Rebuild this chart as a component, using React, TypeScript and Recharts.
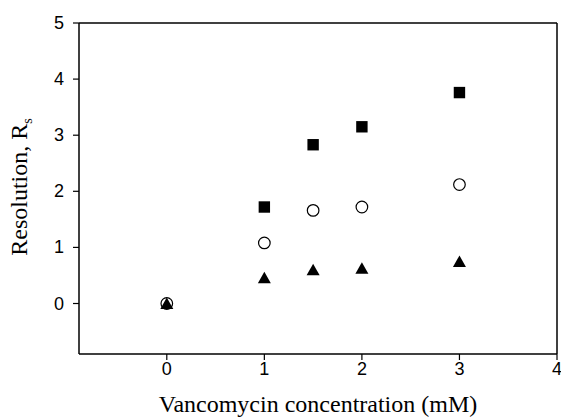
import { ScatterChart, Scatter, XAxis, YAxis, ReferenceLine } from 'recharts';

// Vancomycin concentration (mM)
const squareConc = [1, 1.5, 2, 3];
const squareRs = [1.72, 2.83, 3.15, 3.76];
const circleConc = [0, 1, 1.5, 2, 3];
const circleRs = [0, 1.08, 1.66, 1.72, 2.12];
const triangleConc = [0, 1, 1.5, 2, 3];
const triangleRs = [0, 0.46, 0.6, 0.63, 0.75];

const xTicks = [0, 1, 2, 3, 4];
const yTicks = [0, 1, 2, 3, 4, 5];

const toPoints = (xs: number[], ys: number[]) => xs.map((x, i) => ({ x, y: ys[i] }));

const squareData = toPoints(squareConc, squareRs);
const circleData = toPoints(circleConc, circleRs);
const triangleData = toPoints(triangleConc, triangleRs);

const sans = '"Liberation Sans", Arial, sans-serif';
const serif = '"Liberation Serif", "Times New Roman", serif';

const XTick = ({ x, y, payload }: any) => (
  <text x={x} y={y + 13} textAnchor="middle" fontFamily={sans} fontSize={18} fill="#000">
    {payload.value}
  </text>
);
const YTick = ({ x, y, payload }: any) => (
  <text x={x} y={y + 6} textAnchor="end" fontFamily={sans} fontSize={18} fill="#000">
    {payload.value}
  </text>
);

const SquareMark = ({ cx, cy }: any) => (
  <rect x={cx - 5.7} y={cy - 5.7} width={11.4} height={11.4} fill="#000" />
);
const CircleMark = ({ cx, cy }: any) => (
  <circle cx={cx} cy={cy} r={5.8} fill="#fff" stroke="#000" strokeWidth={1.2} />
);
const TriangleMark = ({ cx, cy }: any) => (
  <polygon points={`${cx},${cy - 6} ${cx + 6.5},${cy + 5.5} ${cx - 6.5},${cy + 5.5}`} fill="#000" />
);

const YLabel = () => (
  <text transform="translate(27,187) rotate(-90)" textAnchor="middle" fontFamily={serif} fontSize={24} fill="#000">
    Resolution, R<tspan fontSize={14} dy={5}>s</tspan>
  </text>
);

const XLabel = ({ viewBox }: any) => (
  <text x={viewBox.x + viewBox.width / 2} y={412} textAnchor="middle" fontFamily={serif} fontSize={24} fill="#000">
    Vancomycin concentration (mM)
  </text>
);

const App = () => (
  <div style={{ position: 'absolute', left: 0, top: 0, background: '#fff' }}>
    <ScatterChart width={561} height={420} margin={{ top: 23, right: 4, bottom: 0, left: 0 }}>
      <XAxis
        type="number"
        dataKey="x"
        domain={[-0.9, 4]}
        ticks={xTicks}
        allowDataOverflow
        height={66}
        tick={<XTick />}
        tickSize={6}
        tickMargin={2}
        axisLine={{ stroke: '#000', strokeWidth: 1.5 }}
        tickLine={{ stroke: '#000', strokeWidth: 1.2 }}
        label={<XLabel />}
      />
      <YAxis
        type="number"
        dataKey="y"
        domain={[-0.9, 5]}
        ticks={yTicks}
        allowDataOverflow
        width={79}
        tick={<YTick />}
        tickSize={6}
        tickMargin={9}
        axisLine={{ stroke: '#000', strokeWidth: 1.5 }}
        tickLine={{ stroke: '#000', strokeWidth: 1.2 }}
        label={<YLabel />}
      />
      <ReferenceLine y={5} stroke="#000" strokeWidth={1.5} />
      <ReferenceLine x={4} stroke="#000" strokeWidth={1.5} />
      <Scatter data={squareData} shape={<SquareMark />} isAnimationActive={false} />
      <Scatter data={circleData} shape={<CircleMark />} isAnimationActive={false} />
      <Scatter data={triangleData} shape={<TriangleMark />} isAnimationActive={false} />
    </ScatterChart>
  </div>
);

export default App;
